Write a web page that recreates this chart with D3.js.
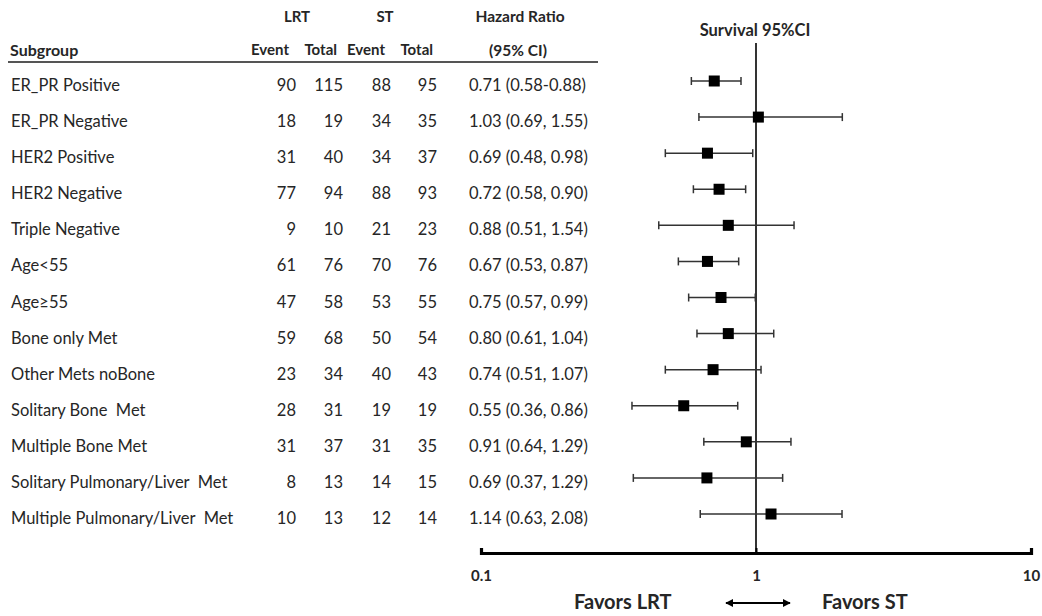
<!DOCTYPE html>
<html><head><meta charset="utf-8">
<script src="https://cdn.jsdelivr.net/npm/d3@7"></script>
<style>
html,body{margin:0;padding:0;background:#fff;}
svg{display:block;font-family:Lato,"Open Sans",sans-serif;}
text{white-space:pre;}
</style></head>
<body>
<svg id="chart" width="1042" height="616"></svg>
<script>
const subgroups = ["ER_PR Positive","ER_PR Negative","HER2 Positive","HER2 Negative","Triple Negative","Age<55","Age\u226555","Bone only Met","Other Mets noBone","Solitary Bone  Met","Multiple Bone Met","Solitary Pulmonary/Liver  Met","Multiple Pulmonary/Liver  Met"];
const lrtEvent = [90,18,31,77,9,61,47,59,23,28,31,8,10];
const lrtTotal = [115,19,40,94,10,76,58,68,34,31,37,13,13];
const stEvent = [88,34,34,88,21,70,53,50,40,19,31,14,12];
const stTotal = [95,35,37,93,23,76,55,54,43,19,35,15,14];
const hrLabels = ["0.71 (0.58-0.88)","1.03 (0.69, 1.55)","0.69 (0.48, 0.98)","0.72 (0.58, 0.90)","0.88 (0.51, 1.54)","0.67 (0.53, 0.87)","0.75 (0.57, 0.99)","0.80 (0.61, 1.04)","0.74 (0.51, 1.07)","0.55 (0.36, 0.86)","0.91 (0.64, 1.29)","0.69 (0.37, 1.29)","1.14 (0.63, 2.08)"];
// plotted values as drawn in the graphic
const plotHR = [0.705,1.02,0.666,0.734,0.793,0.666,0.746,0.793,0.698,0.546,0.922,0.663,1.134];
const plotLo = [0.582,0.620,0.468,0.592,0.443,0.522,0.569,0.610,0.468,0.354,0.646,0.358,0.627];
const plotHi = [0.882,2.06,0.973,0.917,1.375,0.865,0.994,1.16,1.043,0.858,1.34,1.25,2.055];
const xTicks = [0.1,1,10];
const xTickLabels = ["0.1","1","10"];
const colHeaders = ["Event","Total","Event","Total"];

const svg = d3.select("#chart");
const idx = d3.range(subgroups.length);
const y = d3.scalePoint().domain(idx).range([81,514]);
const x = d3.scaleLog().domain([0.1,10]).range([481,1031]);
const axisY = 553;
const textCol = "#262626";
const fs = 16.5;

// headers
const hdr = svg.append("g").attr("font-weight","bold").attr("fill",textCol).attr("font-size",15);
hdr.append("text").attr("x",297).attr("y",22).attr("text-anchor","middle").text("LRT");
hdr.append("text").attr("x",385).attr("y",22).attr("text-anchor","middle").text("ST");
hdr.append("text").attr("x",520).attr("y",22).attr("text-anchor","middle").attr("font-size",15.5).text("Hazard Ratio");
hdr.append("text").attr("x",10).attr("y",56).attr("font-size",16).text("Subgroup");
const hdrRight = [289, 337, 385, 433];
hdr.selectAll(".ch").data(colHeaders).join("text")
  .attr("x",(d,i)=>hdrRight[i]).attr("y",55).attr("text-anchor","end").text(d=>d);
hdr.append("text").attr("x",518).attr("y",56).attr("text-anchor","middle").attr("font-size",15.5).text("(95% CI)");
svg.append("line").attr("x1",8).attr("x2",598).attr("y1",62).attr("y2",62)
  .attr("stroke","#555").attr("stroke-width",2);

// table rows
const rows = svg.append("g").attr("fill",textCol).attr("font-size",fs);
const cols = [
  {arr: subgroups, x: 11, anchor: "start"},
  {arr: lrtEvent, x: 296, anchor: "end"},
  {arr: lrtTotal, x: 343, anchor: "end"},
  {arr: stEvent, x: 391, anchor: "end"},
  {arr: stTotal, x: 437, anchor: "end"},
  {arr: hrLabels, x: 469, anchor: "start"}
];
cols.forEach(c => {
  rows.selectAll(null).data(idx).join("text")
    .attr("x", c.x).attr("y", i => y(i) + 10)
    .attr("text-anchor", c.anchor)
    .text(i => c.arr[i]);
});

// plot title
svg.append("text").attr("x",755).attr("y",36).attr("text-anchor","middle")
  .attr("font-weight","bold").attr("font-size",16.5).attr("fill",textCol).text("Survival 95%CI");

// reference line
svg.append("line").attr("x1",x(1)).attr("x2",x(1)).attr("y1",43).attr("y2",axisY)
  .attr("stroke","#000").attr("stroke-width",1.6);

// error bars
const eb = svg.append("g").attr("stroke","#333").attr("stroke-width",1.5);
eb.selectAll(".ci").data(idx).join("line")
  .attr("x1", i => x(plotLo[i])).attr("x2", i => x(plotHi[i]))
  .attr("y1", i => y(i)).attr("y2", i => y(i));
eb.selectAll(".capL").data(idx).join("line")
  .attr("x1", i => x(plotLo[i])).attr("x2", i => x(plotLo[i]))
  .attr("y1", i => y(i)-4).attr("y2", i => y(i)+4);
eb.selectAll(".capH").data(idx).join("line")
  .attr("x1", i => x(plotHi[i])).attr("x2", i => x(plotHi[i]))
  .attr("y1", i => y(i)-4).attr("y2", i => y(i)+4);

// markers
const ms = 11;
svg.append("g").selectAll("rect").data(idx).join("rect")
  .attr("x", i => x(plotHR[i]) - ms/2).attr("y", i => y(i) - ms/2)
  .attr("width", ms).attr("height", ms).attr("fill","#000");

// axis
const axis = d3.axisBottom(x).tickValues(xTicks)
  .tickFormat((d,i) => xTickLabels[i])
  .tickSizeInner(-5).tickSizeOuter(-5).tickPadding(17);
const ag = svg.append("g").attr("transform",`translate(0,${axisY})`).call(axis);
ag.select(".domain").attr("stroke","#000").attr("stroke-width",3.2).attr("fill","none");
ag.selectAll(".tick line").attr("stroke","#000").attr("stroke-width",2);
ag.selectAll(".tick text").attr("font-family","Lato,sans-serif").attr("font-size",15)
  .attr("font-weight","bold").attr("fill",textCol);

// favors labels
const fav = svg.append("g").attr("font-weight","bold").attr("font-size",20).attr("fill",textCol);
fav.append("text").attr("x",574).attr("y",609).text("Favors LRT");
fav.append("text").attr("x",822).attr("y",609).text("Favors ST");
const defs = svg.append("defs");
defs.append("marker").attr("id","ah").attr("viewBox","0 0 10 10").attr("refX",9).attr("refY",5)
  .attr("markerWidth",4).attr("markerHeight",4).attr("orient","auto-start-reverse")
  .append("path").attr("d","M0,0L10,5L0,10Z").attr("fill","#000");
svg.append("line").attr("x1",726).attr("x2",790).attr("y1",603).attr("y2",603)
  .attr("stroke","#000").attr("stroke-width",2)
  .attr("marker-start","url(#ah)").attr("marker-end","url(#ah)");
</script>
</body></html>
